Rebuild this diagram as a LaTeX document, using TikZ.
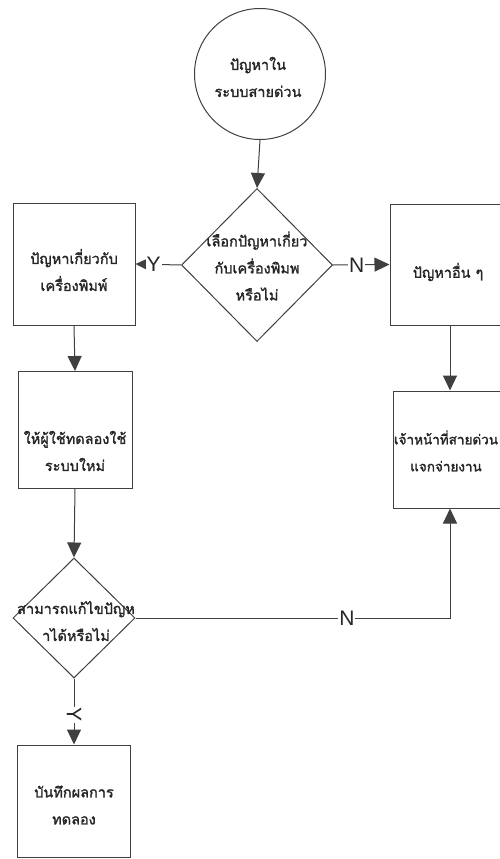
\documentclass[tikz,border=0pt]{standalone}
\usepackage{fontspec}
\setmainfont{Liberation Sans}
\newfontfamily\thaifont[Script=Thai, FakeBold=1.6]{Loma}
\usetikzlibrary{arrows.meta,shapes.geometric}
\tikzset{
  ln/.style={draw=black!75, line width=1pt},
  arr/.style={ln, -{Triangle[length=15pt,width=14pt]}},
  boxst/.style={ln, rectangle, inner sep=0pt},
  dia/.style={ln, diamond, inner sep=0pt, aspect=1},
  txt/.style={font=\thaifont\fontsize{14.5pt}{27pt}\selectfont, align=center, text=black!85, inner sep=0pt},
  lab/.style={font=\fontsize{21pt}{21pt}\selectfont, text=black!85, fill=white, inner sep=1pt}
}
\begin{document}
\begin{tikzpicture}[x=1pt,y=-1pt]
\useasboundingbox (0,0) rectangle (500,859);
\clip (0,0) rectangle (500,859);
\fill[white] (0,0) rectangle (500,859);
% shapes
\node[ln, circle, minimum size=131pt, inner sep=0pt] (c) at (260,74) {};
\node[dia, minimum width=151pt, minimum height=153pt] (d1) at (257,265) {};
\node[boxst, minimum width=122pt, minimum height=122pt] (b1) at (74,264) {};
\node[boxst, minimum width=120pt, minimum height=121pt] (r1) at (450,264.5) {};
\node[boxst, minimum width=114pt, minimum height=117pt] (b2) at (75,430) {};
\node[boxst, minimum width=114pt, minimum height=117pt] (r2) at (450,449.5) {};
\node[dia, minimum width=122pt, minimum height=120pt] (d2) at (74,618) {};
\node[boxst, minimum width=113pt, minimum height=112pt] (b3) at (74,801) {};
% texts
\node[txt] (tc) at (258,77) {ปัญหาใน\\ระบบสายด่วน};
\node[txt] (td1) at (257,266) {เลือกปัญหาเกี่ยว\\กับเครื่องพิมพ\\หรือไม่};
\node[txt] (tb1) at (74,270) {ปัญหาเกี่ยวกับ\\เครื่องพิมพ์};
\node[txt] (tr1) at (448,272) {ปัญหาอื่น ๆ};
\node[txt] (tb2) at (75,451) {ให้ผู้ใช้ทดลองใช้\\ระบบใหม่};
\node[txt, font=\thaifont\fontsize{13.5pt}{27pt}\selectfont] (tr2) at (446,451) {เจ้าหน้าที่สายด่วน\\แจกจ่ายงาน};
\node[txt] (td2) at (76,621) {สามารถแก้ไขปัญห\\าได้หรือไม่};
\node[txt] (tb3) at (74,805) {บันทึกผลการ\\ทดลอง};
% connectors
\draw[arr] (c.south) -- (d1.north);
\draw[arr] (d1.west) -- node[lab, pos=0.6] {Y} (b1.east);
\draw[arr] (d1.east) -- node[lab, pos=0.42] {N} (r1.west);
\draw[arr] (b1.south) -- (b2.north);
\draw[arr] (r1.south) -- (r2.north);
\draw[arr] (b2.south) -- (d2.north);
\draw[arr] (d2.south) -- node[lab, pos=0.55, rotate=-90] {Y} (b3.north);
\draw[arr] (d2.east) -| node[lab, pos=0.336] {N} (r2.south);
\end{tikzpicture}
\end{document}
